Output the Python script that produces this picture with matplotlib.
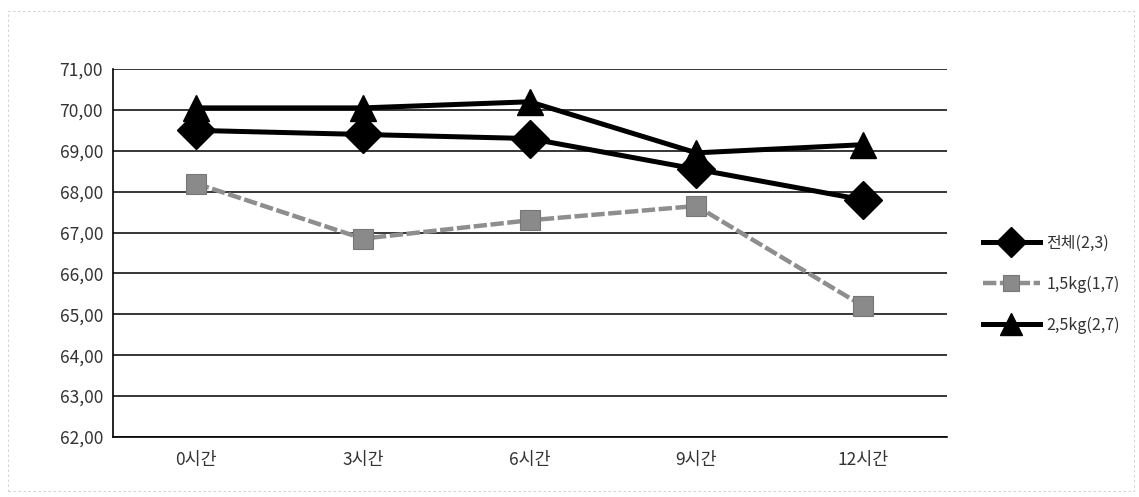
import matplotlib
matplotlib.use("Agg")
import matplotlib.pyplot as plt
from matplotlib.ticker import FuncFormatter
from matplotlib.patches import Rectangle

plt.rcParams['font.family'] = ['Noto Sans CJK KR', 'DejaVu Sans']
plt.rcParams['font.weight'] = 'light'

categories = ['0시간', '3시간', '6시간', '9시간', '12시간']
total_vals = [69.50, 69.40, 69.30, 68.55, 67.80]
kg15_vals = [68.20, 66.85, 67.30, 67.65, 65.20]
kg25_vals = [70.05, 70.05, 70.20, 68.95, 69.15]
series_labels = ['전체(2,3)', '1,5kg(1,7)', '2,5kg(2,7)']
y_ticks = [62, 63, 64, 65, 66, 67, 68, 69, 70, 71]

fig = plt.figure(figsize=(11.39, 4.97), dpi=100)
ax = fig.add_axes([0.099, 0.121, 0.732, 0.740])

x = list(range(len(categories)))

for yv in y_ticks:
    ax.axhline(yv, color='black', lw=1.1, zorder=1)

l1, = ax.plot(x, total_vals, color='black', lw=3.6, marker='D', ms=19,
              mfc='black', mec='black', zorder=4, label=series_labels[0])
l2, = ax.plot(x, kg15_vals, color='#8e8e8e', lw=3.2, ls=(0, (3, 0.8)),
              marker='s', ms=14, mfc='#8a8a8a', mec='#777777', mew=0.8,
              zorder=3, label=series_labels[1])
l3, = ax.plot(x, kg25_vals, color='black', lw=3.6, marker='^', ms=19,
              mfc='black', mec='black', zorder=5, label=series_labels[2])

ax.set_xlim(-0.5, len(categories) - 0.5)
ax.set_ylim(62, 71)
ax.set_yticks(y_ticks)
ax.yaxis.set_major_formatter(FuncFormatter(lambda v, p: f"{v:.2f}".replace('.', ',')))
ax.set_xticks(x)
ax.set_xticklabels(categories)
ax.tick_params(axis='both', length=0, labelsize=12.5, colors='#333333')
ax.tick_params(axis='x', pad=10)
ax.tick_params(axis='y', pad=7)
for side in ['top', 'right']:
    ax.spines[side].set_visible(False)
for side in ['left', 'bottom']:
    ax.spines[side].set_linewidth(1.2)
    ax.spines[side].set_color('black')

leg = fig.legend(handles=[l1, l2, l3], loc='center left',
                 bbox_to_anchor=(0.850, 0.428), frameon=False,
                 fontsize=11.5, handlelength=3.6, labelspacing=1.5,
                 handletextpad=0.4, markerscale=0.8)
for t in leg.get_texts():
    t.set_color('#333333')

fig.patches.append(Rectangle((0.007, 0.012), 0.989, 0.965, transform=fig.transFigure,
                             fill=False, ec='#cccccc', lw=0.6, ls=(0, (3, 3))))

fig.savefig('out.png', dpi=100)
